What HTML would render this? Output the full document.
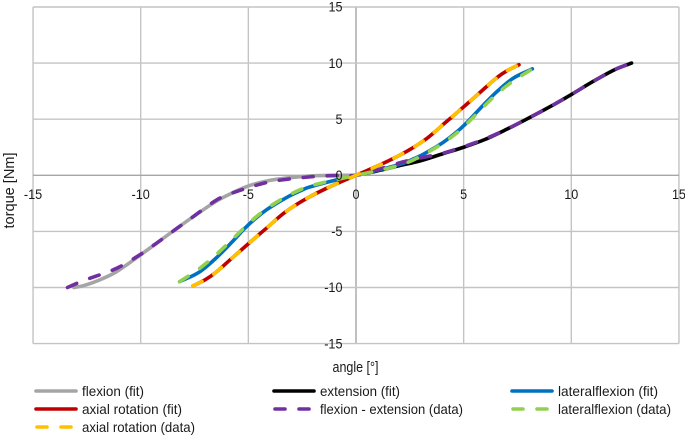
<!DOCTYPE html>
<html>
<head>
<meta charset="utf-8">
<title>Torque vs angle</title>
<style>
html,body{margin:0;padding:0;background:#fff;width:685px;height:435px;overflow:hidden}
svg{display:block}
text{font-family:"Liberation Sans",sans-serif;fill:#1a1a1a}
</style>
</head>
<body>
<svg id="chart" width="685" height="435" viewBox="0 0 685 435" xmlns="http://www.w3.org/2000/svg">
  <g id="grid"></g>
  <g id="series"></g>
  <g id="ticks"></g>
  <text x="355.5" y="372" font-size="15" text-anchor="middle" textLength="46" lengthAdjust="spacingAndGlyphs">angle [°]</text>
  <text transform="translate(14,190.5) rotate(-90)" font-size="15" text-anchor="middle" textLength="76" lengthAdjust="spacingAndGlyphs">torque [Nm]</text>
  <g font-size="14">
    <g>
      <line x1="36" x2="76" y1="391" y2="391" stroke="#a5a5a5" stroke-width="3.6" stroke-linecap="round"/>
      <text x="82" y="396" textLength="62" lengthAdjust="spacingAndGlyphs">flexion (fit)</text>
    </g>
    <g>
      <line x1="274" x2="314" y1="391" y2="391" stroke="#000" stroke-width="3.6" stroke-linecap="round"/>
      <text x="320" y="396" textLength="80" lengthAdjust="spacingAndGlyphs">extension (fit)</text>
    </g>
    <g>
      <line x1="512" x2="552" y1="391" y2="391" stroke="#0070c0" stroke-width="3.6" stroke-linecap="round"/>
      <text x="558" y="396" textLength="100" lengthAdjust="spacingAndGlyphs">lateralflexion (fit)</text>
    </g>
    <g>
      <line x1="36" x2="76" y1="409" y2="409" stroke="#c00000" stroke-width="3.6" stroke-linecap="round"/>
      <text x="82" y="414" textLength="100" lengthAdjust="spacingAndGlyphs">axial rotation (fit)</text>
    </g>
    <g>
      <line x1="275" x2="314" y1="409" y2="409" stroke="#7030a0" stroke-width="3.6" stroke-linecap="round" stroke-dasharray="10 14"/>
      <text x="320" y="414" textLength="143" lengthAdjust="spacingAndGlyphs">flexion - extension (data)</text>
    </g>
    <g>
      <line x1="513" x2="552" y1="409" y2="409" stroke="#92d050" stroke-width="3.6" stroke-linecap="round" stroke-dasharray="10 14"/>
      <text x="558" y="414" textLength="113" lengthAdjust="spacingAndGlyphs">lateralflexion (data)</text>
    </g>
    <g>
      <line x1="37" x2="76" y1="427" y2="427" stroke="#ffc000" stroke-width="3.6" stroke-linecap="round" stroke-dasharray="10 14"/>
      <text x="82" y="432" textLength="113" lengthAdjust="spacingAndGlyphs">axial rotation (data)</text>
    </g>
  </g>
</svg>
<script>
var xTickValues = [-15, -10, -5, 0, 5, 10, 15];
var yTickValues = [15, 10, 5, 0, -5, -10, -15];

var flexionFitX = [-13.1, -12.68, -12, -11.13, -10.05, -9.27, -8.42, -7.57, -6.48, -5.8, -5.09, -4.4, -3.7, -2.15, -1, 0];
var flexionFitY = [-10, -9.85, -9.4, -8.6, -7.15, -6.06, -4.87, -3.7, -2.3, -1.62, -1.02, -0.62, -0.36, -0.06, -0.01, 0];

var extensionFitX = [0, 1, 2, 3, 4, 5, 6, 7, 8, 9, 10, 11, 12, 12.8];
var extensionFitY = [0, 0.4, 0.85, 1.3, 1.9, 2.5, 3.2, 4.1, 5.08, 6.1, 7.2, 8.35, 9.4, 10];

var lateralFitX = [-8.19, -7.3, -6.54, -5.77, -5.15, -4.7, -4.06, -3.1, -2.6, -2.2, -0.8, 0, 0.8, 2.2, 2.6, 3.1, 4.06, 4.7, 5.15, 5.77, 6.54, 7.3, 8.19];
var lateralFitY = [-9.48, -8.65, -7.45, -5.97, -4.7, -3.9, -2.95, -1.85, -1.4, -1.07, -0.35, 0, 0.35, 1.07, 1.4, 1.85, 2.95, 3.9, 4.7, 5.97, 7.45, 8.65, 9.48];

var axialFitX = [-7.57, -7, -6.54, -5.77, -5, -4.2, -3.3, -2.36, -1.27, 0, 1.27, 2.36, 3.3, 4.2, 5, 5.77, 6.54, 7, 7.57];
var axialFitY = [-9.85, -9.3, -8.7, -7.4, -6.1, -4.78, -3.3, -2.14, -1.07, 0, 1.07, 2.14, 3.3, 4.78, 6.1, 7.4, 8.7, 9.3, 9.85];

var flexExtDataX = [-13.4, -12.68, -11.13, -10.05, -9.27, -8.42, -7.57, -6.48, -5.8, -5.09, -4.4, -3.7, -2.15, -1, 0, 1, 2, 3, 4, 5, 6, 7, 8, 9, 10, 11, 12, 12.8];
var flexExtDataY = [-10, -9.4, -8.3, -7.1, -6.06, -4.87, -3.7, -2.2, -1.62, -1.16, -0.76, -0.48, -0.14, -0.02, 0, 0.5, 1.1, 1.55, 1.95, 2.55, 3.25, 4.1, 5.08, 6.1, 7.2, 8.35, 9.4, 10];

var lateralDataX = [-8.19, -7.3, -6.54, -5.77, -5.15, -4.7, -4.06, -3.1, -2.2, -0.8, 0, 0.8, 2.2, 3.1, 4.06, 4.7, 5.15, 5.77, 6.54, 7.3, 8.19];
var lateralDataY = [-9.48, -8.35, -7.15, -5.75, -4.6, -3.8, -2.85, -1.75, -1.0, -0.33, 0, 0.33, 1.0, 1.8, 2.9, 3.8, 4.6, 5.8, 7.25, 8.4, 9.48];

var axialDataX = [-7.57, -7, -6.54, -5.77, -5, -4.2, -3.3, -2.36, -1.27, 0, 1.27, 2.36, 3.3, 4.2, 5, 5.77, 6.54, 7, 7.57];
var axialDataY = [-9.85, -9.3, -8.7, -7.4, -6.1, -4.78, -3.3, -2.14, -1.07, 0, 1.07, 2.14, 3.3, 4.78, 6.1, 7.4, 8.7, 9.3, 9.85];

var fitSeries = [
  {name: 'flexion-fit-line', xs: flexionFitX, ys: flexionFitY, color: '#a5a5a5'},
  {name: 'extension-fit-line', xs: extensionFitX, ys: extensionFitY, color: '#000000'},
  {name: 'lateralflexion-fit-line', xs: lateralFitX, ys: lateralFitY, color: '#0070c0'},
  {name: 'axial-rotation-fit-line', xs: axialFitX, ys: axialFitY, color: '#c00000'}
];
var dataSeries = [
  {name: 'flexion-extension-data-line', xs: flexExtDataX, ys: flexExtDataY, color: '#7030a0'},
  {name: 'lateralflexion-data-line', xs: lateralDataX, ys: lateralDataY, color: '#92d050'},
  {name: 'axial-rotation-data-line', xs: axialDataX, ys: axialDataY, color: '#ffc000'}
];

var NS = 'http://www.w3.org/2000/svg';
function sx(v) { return 356 + v * 21.53; }
function sy(v) { return 175.3 - v * 11.22; }

function pathFrom(xs, ys) {
  var p = xs.map(function (x, i) { return [sx(x), sy(ys[i])]; });
  var n = p.length;
  var m = p.map(function (q, i) {
    var a = p[Math.max(i - 1, 0)], b = p[Math.min(i + 1, n - 1)];
    return (b[1] - a[1]) / (b[0] - a[0]);
  });
  var d = 'M' + p[0][0].toFixed(2) + ' ' + p[0][1].toFixed(2);
  for (var i = 0; i < n - 1; i++) {
    var h = (p[i + 1][0] - p[i][0]) / 3;
    d += 'C' + (p[i][0] + h).toFixed(2) + ' ' + (p[i][1] + m[i] * h).toFixed(2) + ' ' +
      (p[i + 1][0] - h).toFixed(2) + ' ' + (p[i + 1][1] - m[i + 1] * h).toFixed(2) + ' ' +
      p[i + 1][0].toFixed(2) + ' ' + p[i + 1][1].toFixed(2);
  }
  return d;
}

function labelWidth(v) {
  var s = String(Math.abs(v));
  return s.length * 7 + (v < 0 ? 4.3 : 0);
}

var grid = document.getElementById('grid');
var ticks = document.getElementById('ticks');
var series = document.getElementById('series');

xTickValues.forEach(function (v) {
  var l = document.createElementNS(NS, 'line');
  
  
  l.setAttribute('x1', sx(v));
  l.setAttribute('x2', sx(v));
  l.setAttribute('y1', sy(15));
  l.setAttribute('y2', sy(-15));
  l.setAttribute('stroke', v === 0 ? '#a6a6a6' : '#c4c4c4');
  l.setAttribute('stroke-width', '1.4');
  grid.appendChild(l);
  var t = document.createElementNS(NS, 'text');
  
  
  t.setAttribute('x', sx(v));
  t.setAttribute('y', 199);
  t.setAttribute('font-size', '14');
  t.setAttribute('text-anchor', 'middle');
  t.setAttribute('textLength', labelWidth(v));
  t.setAttribute('lengthAdjust', 'spacingAndGlyphs');
  t.textContent = String(v);
  ticks.appendChild(t);
});

yTickValues.forEach(function (v) {
  var l = document.createElementNS(NS, 'line');
  
  
  l.setAttribute('x1', sx(-15));
  l.setAttribute('x2', sx(15));
  l.setAttribute('y1', sy(v));
  l.setAttribute('y2', sy(v));
  l.setAttribute('stroke', v === 0 ? '#a6a6a6' : '#c4c4c4');
  l.setAttribute('stroke-width', '1.4');
  grid.appendChild(l);
  var t = document.createElementNS(NS, 'text');
  
  
  t.setAttribute('x', 342.5);
  t.setAttribute('y', sy(v) + 4.7);
  t.setAttribute('font-size', '14');
  t.setAttribute('text-anchor', 'end');
  t.setAttribute('textLength', labelWidth(v));
  t.setAttribute('lengthAdjust', 'spacingAndGlyphs');
  t.textContent = String(v);
  ticks.appendChild(t);
});

fitSeries.forEach(function (s) {
  var p = document.createElementNS(NS, 'path');
  
  
  p.setAttribute('d', pathFrom(s.xs, s.ys));
  p.setAttribute('fill', 'none');
  p.setAttribute('stroke', s.color);
  p.setAttribute('stroke-width', '3.6');
  p.setAttribute('stroke-linecap', 'round');
  series.appendChild(p);
});

dataSeries.forEach(function (s) {
  var p = document.createElementNS(NS, 'path');
  
  
  p.setAttribute('d', pathFrom(s.xs, s.ys));
  p.setAttribute('fill', 'none');
  p.setAttribute('stroke', s.color);
  p.setAttribute('stroke-width', '3.6');
  p.setAttribute('stroke-linecap', 'round');
  p.setAttribute('stroke-dasharray', '10 14');
  series.appendChild(p);
});
</script>
</body>
</html>
